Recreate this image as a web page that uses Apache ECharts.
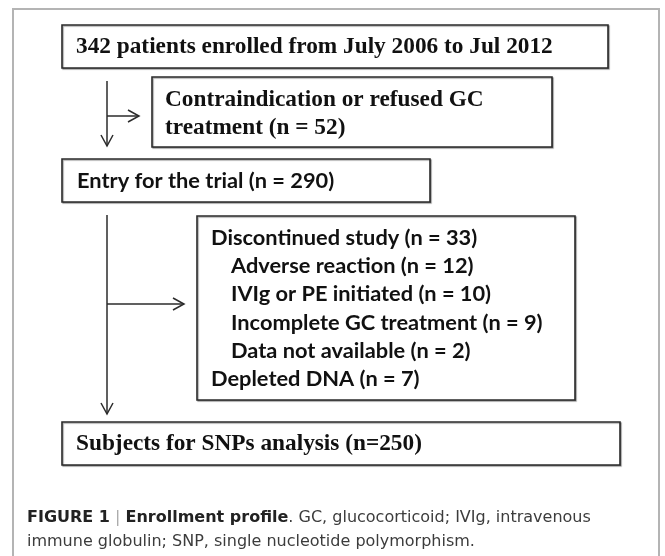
<!DOCTYPE html>
<html>
<head>
<meta charset="utf-8" />
<script type="text/javascript" src="https://cdn.jsdelivr.net/npm/echarts@6/dist/echarts.min.js"></script>
<title></title>
<style>
    html, body { margin: 0; padding: 0; background: #fff; }
    #main { width: 665px; height: 556px; }
</style>
</head>
<body>
<div id="main"></div>
<script type="text/javascript">
// box texts, top to bottom
var enrolled = ['342 patients enrolled from July 2006 to Jul 2012'];
var excluded = ['Contraindication or refused GC', 'treatment (n = 52)'];
var entry = ['Entry for the trial (n = 290)'];
var discontinued = ['Discontinued study (n = 33)', 'Depleted DNA (n = 7)'];
var discontinuedReasons = ['Adverse reaction (n = 12)', 'IVIg or PE initiated (n = 10)',
    'Incomplete GC treatment (n = 9)', 'Data not available (n = 2)'];
var analysed = ['Subjects for SNPs analysis (n=250)'];
var captionLines = [
    '{b|FIGURE 1} {s||} {b|Enrollment profile}. GC, glucocorticoid; IVIg, intravenous',
    'immune globulin; SNP, single nucleotide polymorphism.'
];

var myChart = echarts.init(document.getElementById('main'));

var SERIF = '"Liberation Serif", "Times New Roman", serif';
var SANS = 'Lato, "Open Sans", sans-serif';
var CAP = '"DejaVu Sans", "Liberation Sans", sans-serif';
var INK = '#2b2b2b';

function box(x, y, w, h) {
    return {
        type: 'rect',
        shape: { x: x, y: y, width: w, height: h },
        style: {
            fill: '#fff', stroke: INK, lineWidth: 1.6,
            shadowColor: 'rgba(0,0,0,0.35)', shadowOffsetX: 1, shadowOffsetY: 1, shadowBlur: 1
        }
    };
}

function label(txt, x, y, font, size) {
    return {
        type: 'text',
        x: x, y: y,
        style: {
            text: txt, fill: '#111', font: 'bold ' + size + 'px ' + font,
            textAlign: 'left', textVerticalAlign: 'middle'
        }
    };
}

function line(x1, y1, x2, y2) {
    return {
        type: 'line',
        shape: { x1: x1, y1: y1, x2: x2, y2: y2 },
        style: { stroke: INK, lineWidth: 1.5 }
    };
}

// open arrow head, dir = 'down' or 'right'
function head(x, y, dir) {
    var pts = dir === 'down'
        ? [[x - 6, y - 11], [x, y], [x + 6, y - 11]]
        : [[x - 11, y - 6], [x, y], [x - 11, y + 6]];
    return {
        type: 'polyline',
        shape: { points: pts },
        style: { stroke: INK, lineWidth: 1.5, fill: null }
    };
}

var els = [];

// outer figure frame
els.push({
    type: 'rect',
    shape: { x: 13, y: 9, width: 646, height: 580 },
    style: { fill: null, stroke: '#b4b4b4', lineWidth: 2 }
});

// first arrow pair
els.push(line(107, 81, 107, 146), head(107, 146, 'down'));
els.push(line(107, 116, 139, 116), head(139, 116, 'right'));
// second arrow pair
els.push(line(107, 215, 107, 414), head(107, 414, 'down'));
els.push(line(107, 304, 184, 304), head(184, 304, 'right'));

// boxes
els.push(box(62, 25, 546, 43));
els.push(label(enrolled[0], 76, 47, SERIF, 23.3));

els.push(box(152, 77, 400, 70));
excluded.forEach(function (t, i) {
    els.push(label(t, 165, 100 + i * 28, SERIF, 23.3));
});

els.push(box(62, 159, 368, 43));
els.push(label(entry[0], 77, 181, SANS, 21.8));

els.push(box(197, 216, 378, 184));
var rows = [discontinued[0]].concat(discontinuedReasons, [discontinued[1]]);
rows.forEach(function (t, i) {
    var indent = (i === 0 || i === rows.length - 1) ? 211 : 231;
    els.push(label(t, indent, 238 + i * 28.2, SANS, 21.8));
});

els.push(box(62, 422, 558, 43));
els.push(label(analysed[0], 76, 444, SERIF, 23.3));

// caption
captionLines.forEach(function (t, i) {
    els.push({
        type: 'text',
        x: 27, y: 518 + i * 24,
        style: {
            text: t, fill: '#3c3c3c',
            font: '16px ' + CAP,
            textVerticalAlign: 'middle',
            rich: {
                b: { fontWeight: 'bold', fontSize: 16, fontFamily: CAP, fill: '#222' },
                s: { fontSize: 16, fontFamily: CAP, fill: '#aaa' }
            }
        }
    });
});

var option = {
    backgroundColor: '#fff',
    animation: false,
    graphic: { elements: els }
};
myChart.setOption(option);
</script>
</body>
</html>
